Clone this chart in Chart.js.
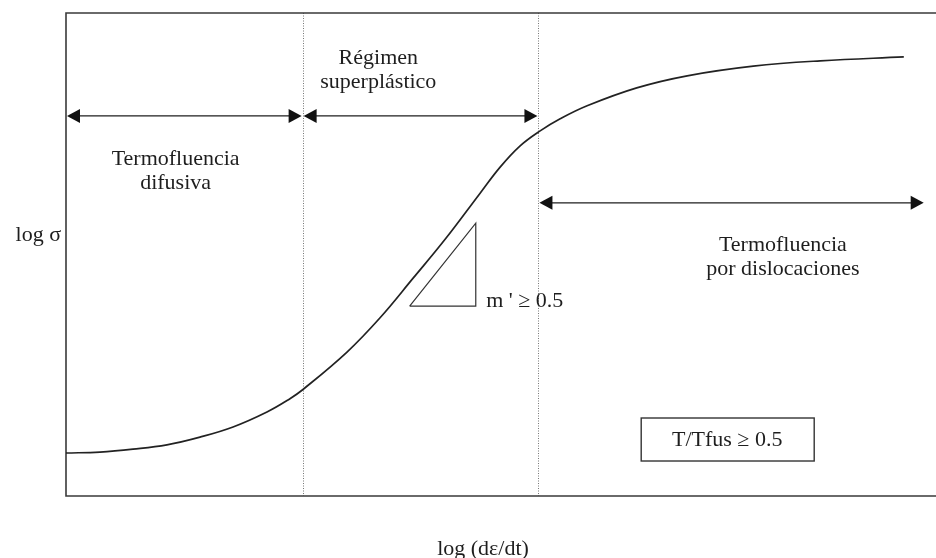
<!DOCTYPE html>
<html>
<head>
<meta charset="utf-8">
<script src="https://cdn.jsdelivr.net/npm/chart.js@4"></script>
<style>
  html, body { margin: 0; padding: 0; background: #fff; }
  #wrap { width: 936px; height: 558px; position: relative; }
</style>
</head>
<body>
<div id="wrap"><canvas id="c"></canvas></div>
<script>
// Flow-stress curve: log strain rate (x) vs log stress (y), arbitrary log units
const curveX = [0, 0.39, 0.77, 1.16, 1.54, 1.92, 2.31, 2.57, 2.72, 3.23, 3.61, 3.99, 4.36, 4.76, 4.99, 5.22, 5.45, 5.68, 5.99, 6.56, 7.14, 7.90, 8.67, 9.63];
const curveY = [0.89, 0.91, 0.97, 1.06, 1.22, 1.43, 1.74, 2.01, 2.20, 2.98, 3.69, 4.51, 5.32, 6.27, 6.81, 7.25, 7.56, 7.81, 8.08, 8.45, 8.70, 8.90, 9.01, 9.09];

// Slope triangle (m' >= 0.5) beside the superplastic part of the curve
const slopeX = [3.95, 4.71, 4.71, 3.95];
const slopeY = [3.93, 3.93, 5.65, 3.93];

// Regime boundaries along log strain rate
const boundaries = [2.72, 5.43];

// Range arrows: [from x, to x, at y]
const rangeArrows = [
  [0, 2.72, 7.87],
  [2.72, 5.43, 7.87],
  [5.43, 9.87, 6.07]
];

// Region labels: [x, y, lines]
const regionLabels = [
  [1.26, 6.98, ['Termofluencia', 'difusiva']],
  [3.59, 9.07, ['Régimen', 'superplástico']],
  [8.24, 5.20, ['Termofluencia', 'por dislocaciones']]
];

const slopeLabel = { x: 4.83, y: 4.04, text: "m ' \u2265 0.5" };
const tempLabel = { x: 7.60, y: 1.18, text: 'T/Tfus \u2265 0.5' };
const yTitle = 'log \u03c3';
const xTitle = 'log (d\u03b5/dt)';

const FONT = '22px "Liberation Serif", "DejaVu Serif", serif';
const INK = '#1e1e1e';

function toPts(xs, ys) { return xs.map((x, i) => ({ x: x, y: ys[i] })); }

const decorations = {
  id: 'decorations',
  beforeDatasetsDraw(chart) {
    const { ctx, chartArea: a, scales: { x } } = chart;
    ctx.save();
    // dotted regime boundaries
    ctx.strokeStyle = '#777';
    ctx.lineWidth = 1;
    ctx.setLineDash([1, 1.5]);
    boundaries.forEach(b => {
      const px = Math.round(x.getPixelForValue(b)) + 0.5;
      ctx.beginPath();
      ctx.moveTo(px, a.top);
      ctx.lineTo(px, a.bottom);
      ctx.stroke();
    });
    ctx.setLineDash([]);
    // frame: left, top and bottom sides
    ctx.strokeStyle = '#3a3a3a';
    ctx.lineWidth = 1.6;
    ctx.beginPath();
    ctx.moveTo(a.right, a.top);
    ctx.lineTo(a.left, a.top);
    ctx.lineTo(a.left, a.bottom);
    ctx.lineTo(a.right, a.bottom);
    ctx.stroke();
    ctx.restore();
  },
  afterDatasetsDraw(chart) {
    const { ctx, chartArea: a, scales: { x, y } } = chart;
    ctx.save();
    // double-headed range arrows
    const head = (tx, ty, dir) => {
      ctx.beginPath();
      ctx.moveTo(tx, ty);
      ctx.lineTo(tx - dir * 13, ty - 7);
      ctx.lineTo(tx - dir * 13, ty + 7);
      ctx.closePath();
      ctx.fill();
    };
    ctx.strokeStyle = INK;
    ctx.fillStyle = '#111';
    ctx.lineWidth = 1.3;
    rangeArrows.forEach(([x0, x1, yy]) => {
      const p0 = x.getPixelForValue(x0) + 1;
      const p1 = x.getPixelForValue(x1) - 1;
      const py = y.getPixelForValue(yy);
      ctx.beginPath();
      ctx.moveTo(p0 + 6, py);
      ctx.lineTo(p1 - 6, py);
      ctx.stroke();
      head(p0, py, -1);
      head(p1, py, 1);
    });

    ctx.font = FONT;
    ctx.fillStyle = INK;
    ctx.textBaseline = 'middle';
    ctx.textAlign = 'center';
    regionLabels.forEach(([lx, ly, lines]) => {
      const px = x.getPixelForValue(lx);
      const py = y.getPixelForValue(ly);
      lines.forEach((t, i) => ctx.fillText(t, px, py + i * 24));
    });

    // slope annotation
    ctx.textAlign = 'left';
    ctx.fillText(slopeLabel.text, x.getPixelForValue(slopeLabel.x), y.getPixelForValue(slopeLabel.y));

    // temperature condition box
    const tx = x.getPixelForValue(tempLabel.x);
    const ty = y.getPixelForValue(tempLabel.y);
    ctx.textAlign = 'center';
    ctx.fillText(tempLabel.text, tx, ty + 1);
    ctx.strokeStyle = '#333';
    ctx.lineWidth = 1.4;
    ctx.strokeRect(tx - 86, ty - 21, 173, 43);

    // axis titles
    ctx.textAlign = 'right';
    ctx.fillText(yTitle, a.left - 5, y.getPixelForValue(5.4));
    ctx.textAlign = 'center';
    ctx.fillText(xTitle, (a.left + a.right) / 2 - 18, a.bottom + 53);
    ctx.restore();
  }
};

new Chart(document.getElementById('c'), {
  type: 'scatter',
  data: {
    datasets: [
      {
        label: 'log \u03c3',
        data: toPts(curveX, curveY),
        showLine: true,
        borderColor: '#222',
        borderWidth: 1.7,
        pointRadius: 0,
        tension: 0.4
      },
      {
        label: 'pendiente',
        data: toPts(slopeX, slopeY),
        showLine: true,
        borderColor: '#333',
        borderWidth: 1.2,
        pointRadius: 0,
        tension: 0
      }
    ]
  },
  options: {
    responsive: true,
    maintainAspectRatio: false,
    animation: false,
    layout: { padding: { left: 66, top: 13, right: 0, bottom: 62 } },
    plugins: { legend: { display: false }, tooltip: { enabled: false } },
    scales: {
      x: { type: 'linear', min: 0, max: 10, display: false },
      y: { type: 'linear', min: 0, max: 10, display: false }
    }
  },
  plugins: [decorations]
});
</script>
</body>
</html>
